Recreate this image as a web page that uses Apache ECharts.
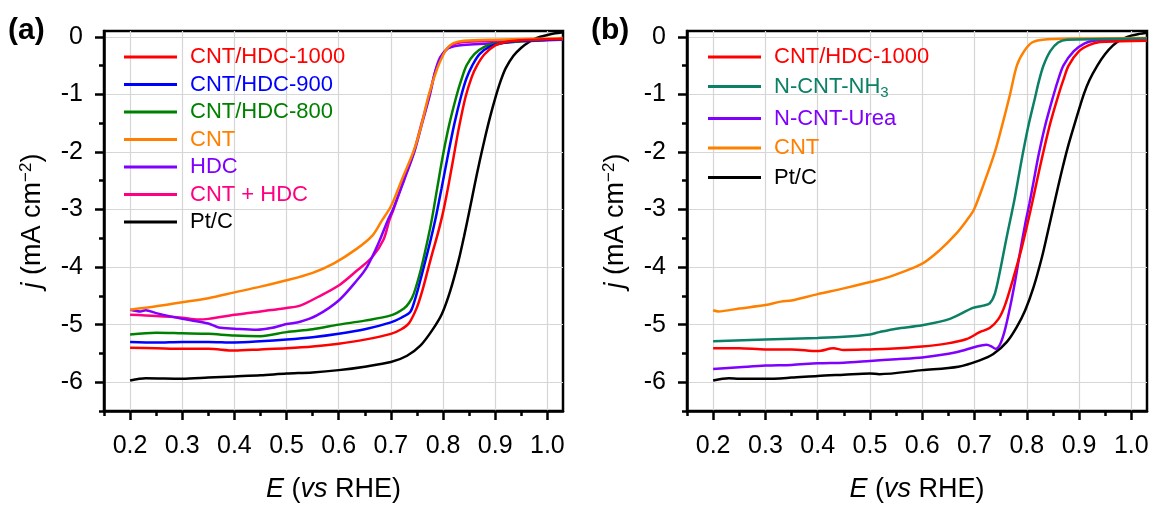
<!DOCTYPE html>
<html>
<head>
<meta charset="utf-8">
<script src="https://cdn.jsdelivr.net/npm/echarts@6/dist/echarts.min.js"></script>
<style>html,body{margin:0;padding:0;background:#fff}#c{width:1152px;height:508px}</style>
</head>
<body>
<div id="c"></div>
<script>
// ---------- tick labels ----------
const xMajor = [0.2, 0.3, 0.4, 0.5, 0.6, 0.7, 0.8, 0.9, 1.0];
const xMinor = [0.15, 0.25, 0.35, 0.45, 0.55, 0.65, 0.75, 0.85, 0.95];
const yMajor = [-6, -5, -4, -3, -2, -1, 0];
const yMinor = [-6.5, -5.5, -4.5, -3.5, -2.5, -1.5, -0.5];

// ---------- panel (a) ----------
const a_names = ['CNT/HDC-1000', 'CNT/HDC-900', 'CNT/HDC-800', 'CNT', 'HDC', 'CNT + HDC', 'Pt/C'];
const a_colors = ['#ff0000', '#0000ff', '#008000', '#ff8000', '#8000ff', '#ff0080', '#000000'];
const a_hdc1000 = [[0.2,-5.40],[0.25,-5.41],[0.3,-5.42],[0.35,-5.42],[0.4,-5.45],[0.45,-5.43],[0.5,-5.41],[0.55,-5.38],[0.6,-5.33],[0.65,-5.26],[0.7,-5.16],[0.72,-5.08],[0.735,-4.97],[0.75,-4.70],[0.76,-4.42],[0.77,-4.08],[0.78,-3.74],[0.79,-3.42],[0.80,-3.05],[0.81,-2.6],[0.82,-2.1],[0.83,-1.6],[0.843,-1.05],[0.855,-0.7],[0.865,-0.5],[0.88,-0.3],[0.9,-0.15],[0.92,-0.09],[0.95,-0.06],[0.98,-0.05],[1.03,-0.04]];
const a_hdc900 = [[0.2,-5.30],[0.25,-5.31],[0.3,-5.30],[0.35,-5.30],[0.4,-5.31],[0.45,-5.29],[0.5,-5.26],[0.55,-5.22],[0.6,-5.16],[0.65,-5.08],[0.7,-4.96],[0.72,-4.88],[0.737,-4.78],[0.745,-4.6],[0.753,-4.35],[0.766,-3.9],[0.777,-3.5],[0.787,-3.1],[0.797,-2.64],[0.81,-2.03],[0.822,-1.5],[0.835,-1.02],[0.845,-0.72],[0.856,-0.5],[0.87,-0.3],[0.89,-0.17],[0.92,-0.1],[0.95,-0.07],[1.0,-0.05],[1.03,-0.04]];
const a_hdc800 = [[0.2,-5.17],[0.25,-5.14],[0.3,-5.15],[0.35,-5.16],[0.4,-5.19],[0.45,-5.20],[0.5,-5.13],[0.55,-5.08],[0.6,-5.0],[0.65,-4.93],[0.7,-4.84],[0.725,-4.72],[0.735,-4.62],[0.744,-4.46],[0.757,-4.06],[0.77,-3.55],[0.779,-3.15],[0.789,-2.62],[0.8,-2.05],[0.812,-1.52],[0.826,-1.02],[0.835,-0.75],[0.845,-0.5],[0.86,-0.3],[0.88,-0.17],[0.9,-0.12],[0.95,-0.08],[1.0,-0.05],[1.03,-0.04]];
const a_cnt = [[0.2,-4.74],[0.25,-4.68],[0.3,-4.61],[0.35,-4.54],[0.4,-4.44],[0.45,-4.34],[0.5,-4.23],[0.55,-4.1],[0.59,-3.94],[0.635,-3.68],[0.665,-3.45],[0.683,-3.19],[0.698,-2.98],[0.705,-2.85],[0.722,-2.46],[0.743,-2.0],[0.757,-1.59],[0.773,-1.0],[0.789,-0.55],[0.8,-0.32],[0.808,-0.2],[0.82,-0.11],[0.84,-0.07],[0.9,-0.05],[1.0,-0.03],[1.03,-0.02]];
const a_hdc = [[0.2,-4.74],[0.22,-4.77],[0.23,-4.75],[0.25,-4.80],[0.3,-4.90],[0.35,-4.98],[0.37,-5.05],[0.4,-5.07],[0.443,-5.09],[0.47,-5.06],[0.5,-4.99],[0.526,-4.95],[0.558,-4.84],[0.6,-4.58],[0.635,-4.23],[0.654,-4.0],[0.676,-3.59],[0.694,-3.19],[0.704,-3.0],[0.725,-2.5],[0.745,-2.0],[0.76,-1.5],[0.775,-1.0],[0.785,-0.6],[0.795,-0.35],[0.81,-0.2],[0.83,-0.15],[0.86,-0.13],[0.9,-0.11],[0.95,-0.08],[1.0,-0.06],[1.03,-0.05]];
const a_mix = [[0.2,-4.83],[0.25,-4.85],[0.3,-4.88],[0.33,-4.91],[0.35,-4.90],[0.4,-4.83],[0.45,-4.77],[0.5,-4.71],[0.526,-4.67],[0.56,-4.52],[0.6,-4.32],[0.635,-4.06],[0.664,-3.83],[0.686,-3.52],[0.697,-3.19],[0.705,-3.0],[0.724,-2.5],[0.744,-2.0],[0.759,-1.5],[0.774,-1.0],[0.787,-0.55],[0.8,-0.3],[0.815,-0.15],[0.84,-0.09],[0.9,-0.07],[1.0,-0.05],[1.03,-0.04]];
const a_ptc = [[0.2,-5.97],[0.23,-5.93],[0.3,-5.94],[0.35,-5.92],[0.4,-5.90],[0.45,-5.88],[0.5,-5.85],[0.55,-5.83],[0.6,-5.79],[0.65,-5.73],[0.7,-5.65],[0.731,-5.54],[0.757,-5.36],[0.779,-5.10],[0.798,-4.81],[0.814,-4.41],[0.83,-3.88],[0.84,-3.48],[0.85,-3.05],[0.86,-2.6],[0.87,-2.17],[0.88,-1.77],[0.89,-1.4],[0.9,-1.07],[0.91,-0.78],[0.92,-0.55],[0.935,-0.33],[0.95,-0.19],[0.965,-0.09],[0.98,-0.02],[1.0,0.03],[1.015,0.06],[1.03,0.08]];

// ---------- panel (b) ----------
const b_names = ['CNT/HDC-1000', 'N-CNT-NH3', 'N-CNT-Urea', 'CNT', 'Pt/C'];
const b_colors = ['#ff0000', '#0b8066', '#8000ff', '#ff8000', '#000000'];
const b_hdc1000 = [[0.2,-5.41],[0.25,-5.41],[0.3,-5.43],[0.35,-5.43],[0.4,-5.46],[0.43,-5.41],[0.45,-5.44],[0.5,-5.43],[0.537,-5.42],[0.6,-5.38],[0.646,-5.33],[0.685,-5.25],[0.71,-5.13],[0.729,-5.06],[0.746,-4.90],[0.758,-4.67],[0.774,-4.20],[0.79,-3.68],[0.80,-3.3],[0.81,-2.9],[0.82,-2.48],[0.831,-2.03],[0.845,-1.5],[0.861,-1.0],[0.87,-0.75],[0.88,-0.5],[0.9,-0.25],[0.92,-0.14],[0.94,-0.09],[0.98,-0.08],[1.03,-0.07]];
const b_nh3 = [[0.2,-5.29],[0.3,-5.26],[0.4,-5.23],[0.45,-5.21],[0.5,-5.17],[0.518,-5.13],[0.55,-5.07],[0.6,-5.01],[0.653,-4.90],[0.697,-4.71],[0.717,-4.67],[0.729,-4.63],[0.739,-4.46],[0.749,-4.06],[0.76,-3.55],[0.768,-3.2],[0.776,-2.85],[0.784,-2.45],[0.792,-2.05],[0.803,-1.55],[0.816,-1.05],[0.823,-0.78],[0.832,-0.5],[0.845,-0.25],[0.86,-0.1],[0.877,-0.05],[0.95,-0.04],[1.03,-0.03]];
const b_urea = [[0.2,-5.77],[0.25,-5.74],[0.3,-5.71],[0.35,-5.70],[0.4,-5.67],[0.45,-5.66],[0.5,-5.63],[0.55,-5.60],[0.6,-5.57],[0.665,-5.48],[0.704,-5.38],[0.723,-5.35],[0.733,-5.38],[0.74,-5.42],[0.749,-5.34],[0.758,-5.10],[0.768,-4.70],[0.778,-4.23],[0.787,-3.75],[0.797,-3.25],[0.805,-2.9],[0.813,-2.52],[0.822,-2.08],[0.835,-1.55],[0.851,-1.02],[0.86,-0.75],[0.87,-0.5],[0.89,-0.25],[0.91,-0.12],[0.928,-0.07],[0.97,-0.05],[1.03,-0.04]];
const b_cnt = [[0.2,-4.75],[0.21,-4.77],[0.25,-4.72],[0.3,-4.66],[0.33,-4.6],[0.35,-4.58],[0.4,-4.47],[0.45,-4.37],[0.5,-4.26],[0.537,-4.17],[0.6,-3.94],[0.633,-3.71],[0.665,-3.42],[0.685,-3.19],[0.699,-3.0],[0.72,-2.5],[0.739,-2.0],[0.754,-1.5],[0.768,-1.0],[0.781,-0.5],[0.795,-0.25],[0.81,-0.1],[0.83,-0.05],[0.9,-0.03],[1.03,-0.02]];
const b_ptc = [[0.2,-5.97],[0.23,-5.93],[0.25,-5.94],[0.3,-5.94],[0.35,-5.92],[0.4,-5.89],[0.45,-5.87],[0.5,-5.85],[0.518,-5.86],[0.6,-5.79],[0.669,-5.73],[0.71,-5.62],[0.736,-5.51],[0.762,-5.30],[0.781,-5.04],[0.797,-4.75],[0.813,-4.35],[0.829,-3.83],[0.84,-3.4],[0.85,-3.0],[0.86,-2.6],[0.87,-2.22],[0.88,-1.87],[0.892,-1.5],[0.909,-1.0],[0.92,-0.75],[0.935,-0.5],[0.95,-0.3],[0.965,-0.15],[0.98,-0.05],[1.0,0.02],[1.015,0.05],[1.03,0.07]];

const a_data = [a_hdc1000, a_hdc900, a_hdc800, a_cnt, a_hdc, a_mix, a_ptc];
const b_data = [b_hdc1000, b_nh3, b_urea, b_cnt, b_ptc];

const FONT = 'Liberation Sans, Arial, sans-serif';
const TICK_FS = 25, TITLE_FS = 27, LEG_FS = 22;

function xAxesFor(grid) {
  return [
    { type: 'value', gridIndex: grid, position: 'bottom', min: 0.15, max: 1.03,
      axisLine: { show: true, onZero: false, lineStyle: { color: '#000', width: 2.5 } },
      axisTick: { show: true, length: 9, customValues: xMajor, lineStyle: { color: '#000', width: 2.5 } },
      axisLabel: { show: true, customValues: xMajor, margin: 23, color: '#000', fontSize: TICK_FS, fontFamily: FONT,
                   formatter: v => v.toFixed(1) },
      splitLine: { show: true, lineStyle: { color: '#d6d6d6', width: 1.2 } },
      name: '{i|E} ({i|vs} RHE)', nameLocation: 'middle', nameGap: 65,
      nameTextStyle: { color: '#000', fontSize: TITLE_FS, fontFamily: FONT,
        rich: { i: { fontStyle: 'italic', fontSize: TITLE_FS, fontFamily: FONT, color: '#000' } } } },
    { type: 'value', gridIndex: grid, position: 'bottom', min: 0.15, max: 1.03,
      axisLine: { show: false, onZero: false },
      axisTick: { show: true, length: 5, customValues: xMinor, lineStyle: { color: '#000', width: 2.5 } },
      axisLabel: { show: false }, splitLine: { show: false } }
  ];
}
function yAxesFor(grid) {
  return [
    { type: 'value', gridIndex: grid, position: 'left', min: -6.5, max: 0.1,
      axisLine: { show: true, onZero: false, lineStyle: { color: '#000', width: 2.5 } },
      axisTick: { show: true, length: 9, customValues: yMajor, lineStyle: { color: '#000', width: 2.5 } },
      axisLabel: { show: true, customValues: yMajor, margin: 21, color: '#000', fontSize: TICK_FS, fontFamily: FONT,
                   formatter: v => String(v) },
      splitLine: { show: true, lineStyle: { color: '#d6d6d6', width: 1.2 } },
      name: '{i|j} (mA cm{sup|−2})', nameLocation: 'middle', nameGap: 57,
      nameTextStyle: { color: '#000', fontSize: TITLE_FS, fontFamily: FONT,
        rich: { i: { fontStyle: 'italic', fontSize: TITLE_FS, fontFamily: FONT, color: '#000' },
                sup: { fontSize: 17, fontFamily: FONT, color: '#000', verticalAlign: 'top', padding: [0, 0, 12, 0] } } } },
    { type: 'value', gridIndex: grid, position: 'left', min: -6.5, max: 0.1,
      axisLine: { show: false, onZero: false },
      axisTick: { show: true, length: 5, customValues: yMinor, lineStyle: { color: '#000', width: 2.5 } },
      axisLabel: { show: false }, splitLine: { show: false } }
  ];
}

function seriesFor(names, colors, datas, axisIdx) {
  return names.map((n, i) => ({
    name: n, type: 'line', xAxisIndex: axisIdx, yAxisIndex: axisIdx,
    data: datas[i], showSymbol: false, symbol: 'none', smooth: 0.3,
    lineStyle: { color: colors[i], width: 2.5 }, itemStyle: { color: colors[i] },
    z: 10 - i, animation: false
  }));
}

function legendFor(names, colors, left, gap) {
  return {
    orient: 'vertical', left: left, top: 46, padding: 0, itemGap: gap,
    itemWidth: 53, itemHeight: 3, icon: 'rect', selectedMode: false,
    textStyle: { fontSize: LEG_FS, fontFamily: FONT, lineHeight: 22, padding: [0, 0, 0, 8],
      rich: { t: { fontSize: LEG_FS, fontFamily: FONT, color: '#0b8066' },
              s: { fontSize: 15, fontFamily: FONT, color: '#0b8066', padding: [12, 0, 0, 0] } } },
    formatter: name => name === 'N-CNT-NH3' ? '{t|N-CNT-NH}{s|3}' : name,
    data: names.map((n, i) => ({ name: n, itemStyle: { color: colors[i] }, textStyle: { color: colors[i] } }))
  };
}

const chart = echarts.init(document.getElementById('c'), null, { renderer: 'canvas' });
chart.setOption({
  animation: false,
  backgroundColor: '#fff',
  grid: [
    { left: 104, top: 31, width: 459, height: 380, show: true, borderColor: '#000', borderWidth: 2.5, backgroundColor: 'transparent' },
    { left: 687, top: 31, width: 460, height: 380, show: true, borderColor: '#000', borderWidth: 2.5, backgroundColor: 'transparent' }
  ],
  xAxis: [...xAxesFor(0), ...xAxesFor(1)],
  yAxis: [...yAxesFor(0), ...yAxesFor(1)],
  legend: [legendFor(a_names, a_colors, 124, 5.5), legendFor(b_names, b_colors, 708, 7.5)],
  graphic: [
    { type: 'text', left: 8, top: 16, style: { text: '(a)', font: 'bold 30px ' + FONT, fill: '#000' } },
    { type: 'text', left: 591, top: 16, style: { text: '(b)', font: 'bold 30px ' + FONT, fill: '#000' } }
  ],
  series: [...seriesFor(a_names, a_colors, a_data, 0), ...seriesFor(b_names, b_colors, b_data, 2)]
});
</script>
</body>
</html>
